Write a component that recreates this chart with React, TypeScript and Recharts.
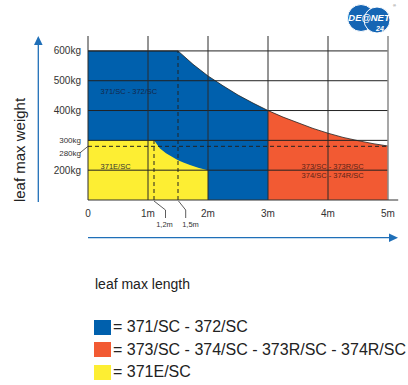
import { ComposedChart, Area, XAxis, YAxis, ReferenceLine, ReferenceDot, Legend } from "recharts";

// leaf length (m) / max weight (kg)
const blueLengths = [0, 1.5, 1.75, 2, 2.25, 2.5, 2.75, 3];
const blueWeights = [600, 600, 555, 516, 483, 452, 425, 400];
const yellowLengths = [0, 1.1, 1.2, 1.3, 1.4, 1.5, 1.6, 1.7, 1.85, 2];
const yellowWeights = [300, 300, 273, 257, 245, 233, 225, 217, 207, 200];
const orangeLengths = [3, 3.25, 3.5, 3.75, 4, 4.25, 4.5, 4.75, 5];
const orangeWeights = [400, 378, 359, 340, 324, 310, 299, 289, 281];

const xTicks = [0, 1, 2, 3, 4, 5];
const yTicks = [200, 280, 300, 400, 500, 600];
const gridWeights = [200, 300, 400, 500, 600];
const dashedWeight = 280;
const dashedLengths = [
  { x: 1.1, top: 300 },
  { x: 1.5, top: 600 },
];

const regionLabels = [
  { x: 0.21, y: 465, text: "371/SC - 372/SC", color: "#14284a" },
  { x: 0.21, y: 214, text: "371E/SC", color: "#333" },
  { x: 3.56, y: 214, text: "373/SC - 373R/SC", color: "#5a2418" },
  { x: 3.56, y: 183, text: "374/SC - 374R/SC", color: "#5a2418" },
];

const BLUE = "#0060ad";
const ORANGE = "#f25a33";
const YELLOW = "#fdee33";

const legendItems = [
  { color: BLUE, text: "= 371/SC - 372/SC" },
  { color: ORANGE, text: "= 373/SC - 374/SC - 373R/SC - 374R/SC" },
  { color: YELLOW, text: "= 371E/SC" },
];

function buildRows() {
  const xs = Array.from(new Set([...blueLengths, ...yellowLengths, ...orangeLengths])).sort((a, b) => a - b);
  return xs.map((x) => {
    const row: any = { x };
    const bi = blueLengths.indexOf(x);
    const yi = yellowLengths.indexOf(x);
    const oi = orangeLengths.indexOf(x);
    if (bi >= 0) row.blue = blueWeights[bi];
    if (yi >= 0) row.yellow = yellowWeights[yi];
    if (oi >= 0) row.orange = orangeWeights[oi];
    return row;
  });
}

const rows = buildRows();

function WeightTick(props: any) {
  const { x, y, payload } = props;
  const v = payload.value;
  const small = v === 300 || v === 280;
  const dy = v === 280 ? 7 : 0;
  return (
    <g>
      <text x={x} y={y + dy} textAnchor="end" dominantBaseline="central" fontSize={small ? 8 : 10} fill="#333">
        {v}kg
      </text>
      {v === 280 && <line x1={x - 1} y1={y + 6.5} x2={x + 7} y2={y} stroke="#333" strokeWidth={0.8} />}
    </g>
  );
}

function LegendBox() {
  return (
    <div>
      {legendItems.map((it) => (
        <div key={it.text} style={{ display: "flex", alignItems: "center", height: 22.5 }}>
          <span style={{ width: 17, height: 15, background: it.color, display: "inline-block", marginRight: 2 }} />
          <span style={{ fontSize: 16, color: "#222", whiteSpace: "nowrap" }}>{it.text}</span>
        </div>
      ))}
    </div>
  );
}

export default function App() {
  return (
    <div style={{ position: "absolute", left: 0, top: 0, width: 408, height: 385, fontFamily: "'Liberation Sans', Arial, sans-serif", background: "#fff" }}>
      <ComposedChart width={408} height={385} data={rows} margin={{ top: 36, right: 20, bottom: 155, left: 38 }}>
        <XAxis
          dataKey="x"
          type="number"
          domain={[0, 5]}
          ticks={xTicks}
          interval={0}
          tickFormatter={(v) => (v === 0 ? "0" : `${v}m`)}
          tick={{ fontSize: 10, fill: "#333" }}
          tickLine={false}
          axisLine={false}
          tickMargin={4}
          height={30}
        />
        <YAxis
          type="number"
          domain={[100, 650]}
          ticks={yTicks}
          interval={0}
          tick={<WeightTick />}
          tickLine={false}
          axisLine={false}
          tickSize={0}
          tickMargin={7}
          width={50}
        />
        <Area dataKey="blue" type="linear" fill={BLUE} fillOpacity={1} stroke="#222" strokeWidth={0.8} connectNulls isAnimationActive={false} />
        <Area dataKey="yellow" type="linear" fill={YELLOW} fillOpacity={1} stroke="none" connectNulls isAnimationActive={false} />
        <Area dataKey="orange" type="linear" fill={ORANGE} fillOpacity={1} stroke="#222" strokeWidth={0.8} connectNulls isAnimationActive={false} />
        {gridWeights.map((w) => (
          <ReferenceLine key={"h" + w} y={w} stroke="#222" strokeWidth={1} />
        ))}
        {xTicks.map((x) => (
          <ReferenceLine key={"v" + x} x={x} stroke={x === 5 ? "#8a8a8a" : "#2a2a2a"} strokeWidth={x === 5 ? 1.5 : 1} />
        ))}
        <ReferenceLine y={dashedWeight} stroke="#222" strokeDasharray="4 3" strokeWidth={1} />
        {dashedLengths.map((d) => (
          <ReferenceLine
            key={"d" + d.x}
            segment={[{ x: d.x, y: 100 }, { x: d.x, y: d.top }]}
            stroke="#222"
            strokeDasharray="4 3"
            strokeWidth={1}
          />
        ))}
        <ReferenceLine segment={[{ x: 0, y: 100 }, { x: 5.17, y: 100 }]} stroke="#333" strokeWidth={1.2} ifOverflow="visible" />
        {regionLabels.map((l) => (
          <ReferenceDot
            key={l.text}
            x={l.x}
            y={l.y}
            r={0}
            fill="none"
            stroke="none"
            label={{ value: l.text, position: "right", offset: 0, fontSize: 7.5, fill: l.color }}
          />
        ))}
        <Legend
          layout="vertical"
          align="center"
          verticalAlign="middle"
          content={<LegendBox />}
          wrapperStyle={{ left: 94, top: 316, width: 314 }}
        />
      </ComposedChart>
      <svg width={408} height={385} style={{ position: "absolute", left: 0, top: 0, pointerEvents: "none" }}>
        {/* axis arrows */}
        <line x1={38.3} y1={202} x2={38.3} y2={44} stroke="#1f6fb8" strokeWidth={1.3} />
        <polygon points="34,45 38.3,36 42.6,45" fill="#1f6fb8" />
        <line x1={88} y1={237.7} x2={390} y2={237.7} stroke="#1f6fb8" strokeWidth={1.3} />
        <polygon points="389,233.5 398,237.7 389,242" fill="#1f6fb8" />
        <text x={19} y={150} transform="rotate(-90 19 150)" textAnchor="middle" dominantBaseline="central" fontSize={15} fill="#222">
          leaf max weight
        </text>
        <text x={95} y={289} fontSize={14} fill="#222">leaf max length</text>
        {/* leaders for 1,2m and 1,5m */}
        <path d="M154 201 L165.5 210 L165.5 218" fill="none" stroke="#333" strokeWidth={0.8} />
        <path d="M178.5 201 L185.7 210 L185.7 218" fill="none" stroke="#333" strokeWidth={0.8} />
        <text x={164.5} y={224} textAnchor="middle" dominantBaseline="central" fontSize={7.5} fill="#333">1,2m</text>
        <text x={190.5} y={224} textAnchor="middle" dominantBaseline="central" fontSize={7.5} fill="#333">1,5m</text>
        {/* logo */}
        <circle cx={361} cy={18} r={13.5} fill="#1565b4" stroke="#fff" strokeWidth={1} />
        <circle cx={377} cy={20} r={13} fill="#1565b4" stroke="#fff" strokeWidth={1} />
        <text x={369} y={21} textAnchor="middle" fontSize={9.5} fontWeight="bold" fontStyle="italic" fill="#fff">DE@NET</text>
        <text x={380} y={31} textAnchor="middle" fontSize={7} fontWeight="bold" fontStyle="italic" fill="#fff">24</text>
        <text x={393} y={7} fontSize={4} fill="#555">®</text>
      </svg>
    </div>
  );
}
